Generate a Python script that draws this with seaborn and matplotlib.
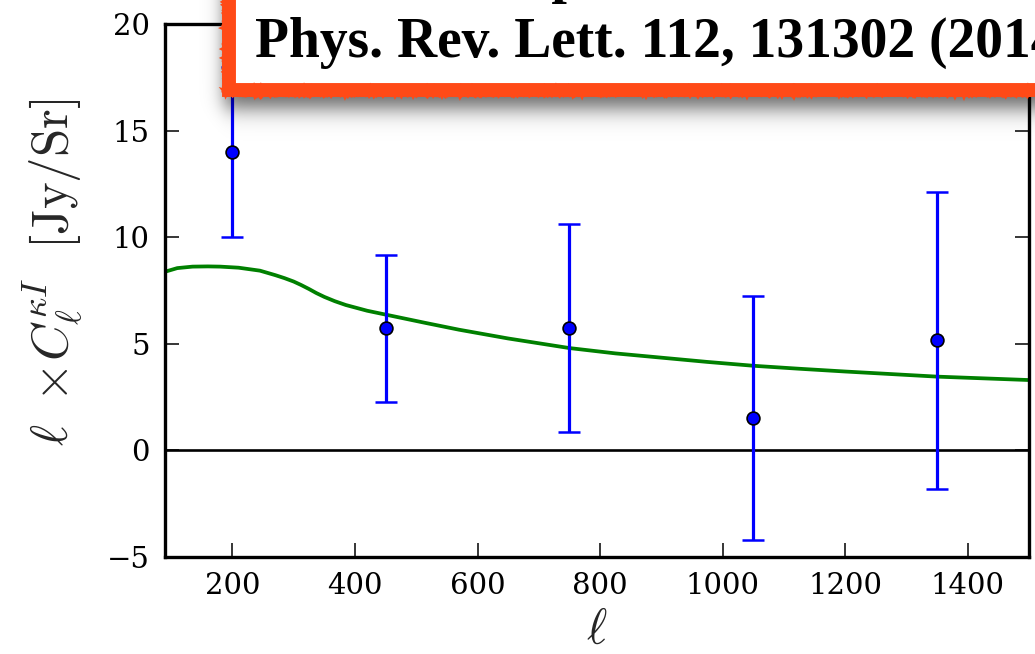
import numpy as np
import matplotlib
matplotlib.use("Agg")
import matplotlib.pyplot as plt
from matplotlib.patches import Rectangle
import seaborn as sns

# Binned cross-spectrum measurements (multipole, value, 1-sigma error)
ell_bins = [200, 450, 750, 1050, 1350]
cl_values = [14.0, 5.73, 5.75, 1.52, 5.17]
cl_errors = [4.0, 3.44, 4.88, 5.72, 6.96]

# Model cross-spectrum curve
ell_model = [90, 110, 135, 160, 180, 210, 245, 270, 285, 300, 312, 325, 337,
             350, 367, 385, 420, 450, 515, 570, 650, 750, 825, 900, 975, 1050,
             1125, 1200, 1275, 1350, 1425, 1500]
cl_model = [8.38, 8.55, 8.62, 8.63, 8.62, 8.57, 8.43, 8.22, 8.08, 7.92, 7.76,
            7.57, 7.38, 7.2, 7.0, 6.82, 6.55, 6.37, 5.98, 5.66, 5.25, 4.8,
            4.55, 4.35, 4.15, 3.97, 3.83, 3.7, 3.58, 3.46, 3.38, 3.3]

x_ticks = [200, 400, 600, 800, 1000, 1200, 1400]
y_ticks = [-5, 0, 5, 10, 15, 20]

citation_lines = ["CIB Cross-Spectrum with Lensing",
                  "Phys. Rev. Lett. 112, 131302 (2014)"]

sns.set_style("ticks")
plt.rcParams["font.family"] = ["DejaVu Serif"]
plt.rcParams["mathtext.fontset"] = "cm"

W, H = 1035, 654
fig = plt.figure(figsize=(W / 100, H / 100), dpi=100)
ax = fig.add_axes([165 / W, 1 - 557 / H, (1029 - 165) / W, (557 - 24) / H])

ax.axhline(0, color="black", lw=1.9, zorder=1)
sns.lineplot(x=ell_model, y=cl_model, ax=ax, color="#008000", lw=2.7,
             estimator=None, sort=False, zorder=2)
ax.errorbar(ell_bins, cl_values, yerr=cl_errors, fmt="none", ecolor="#0000ff",
            elinewidth=2.3, capsize=8, capthick=1.8, zorder=3)
sns.scatterplot(x=ell_bins, y=cl_values, ax=ax, color="#0000ff", s=85,
                edgecolor="black", linewidth=1.2, zorder=4)

ax.set_xlim(90, 1500)
ax.set_ylim(-5, 20)
ax.set_xticks(x_ticks)
ax.set_yticks(y_ticks)
ax.tick_params(direction="in", length=10, width=1.1, labelsize=21, pad=11,
               top=True, right=True, color="black", labelcolor="black")
for side in ax.spines.values():
    side.set_linewidth(2.4)
    side.set_color("black")
    side.set_visible(True)

ax.set_xlabel(r"$\ell$", fontsize=35, labelpad=5)
ax.set_ylabel(r"$\ell\ \times\! C_\ell^{\kappa I}\ \ [\mathrm{Jy/Sr}]$",
              fontsize=36.5)
ax.yaxis.set_label_coords(-0.093, 0.533)

# Overlay layer in pixel coordinates for the citation banner
ov = fig.add_axes([0, 0, 1, 1], zorder=10)
ov.set_xlim(0, W)
ov.set_ylim(H, 0)
ov.axis("off")
ov.patch.set_alpha(0)

# soft drop shadow beneath the banner
gx, gy = np.meshgrid(np.arange(W) + 0.5, np.arange(H) + 0.5)
sx = 1.0 / (1.0 + np.exp(-(gx - 224) / 5.0))
sy = 1.0 / (1.0 + np.exp((gy - 108) / 6.5))
shade = np.zeros((H, W, 4))
shade[..., 3] = 0.6 * sx * sy
ov.imshow(shade, extent=(0, W, H, 0), interpolation="bilinear", zorder=1,
          aspect="auto")

banner = Rectangle((229, -60), 900, 150, facecolor="white", edgecolor="none",
                   zorder=2)
ov.add_patch(banner)
edge = Rectangle((229, -60), 900, 150, facecolor="none",
                 edgecolor="#ff4a17", lw=10.0, zorder=3)
ov.add_patch(edge)
for lw, scale, length, rnd in [(4.0, 1.2, 3, 4), (3.0, 1.0, 2, 5)]:
    rough = Rectangle((229, -60), 900, 150, facecolor="none",
                      edgecolor="#ff4a17", lw=lw, zorder=3)
    rough.set_sketch_params(scale=scale, length=length, randomness=rnd)
    ov.add_patch(rough)
    rough2 = Rectangle((229 - 3, -60), 906, 153, facecolor="none",
                       edgecolor="#ff4a17", lw=lw, zorder=3)
    rough2.set_sketch_params(scale=scale, length=length, randomness=rnd)
    ov.add_patch(rough2)

for text, base in zip(citation_lines, [-8, 57]):
    ov.text(255, base, text, fontsize=40, fontweight="bold",
            family="Liberation Serif", color="black", ha="left",
            va="baseline", zorder=4)

fig.savefig("out.png", dpi=100)
